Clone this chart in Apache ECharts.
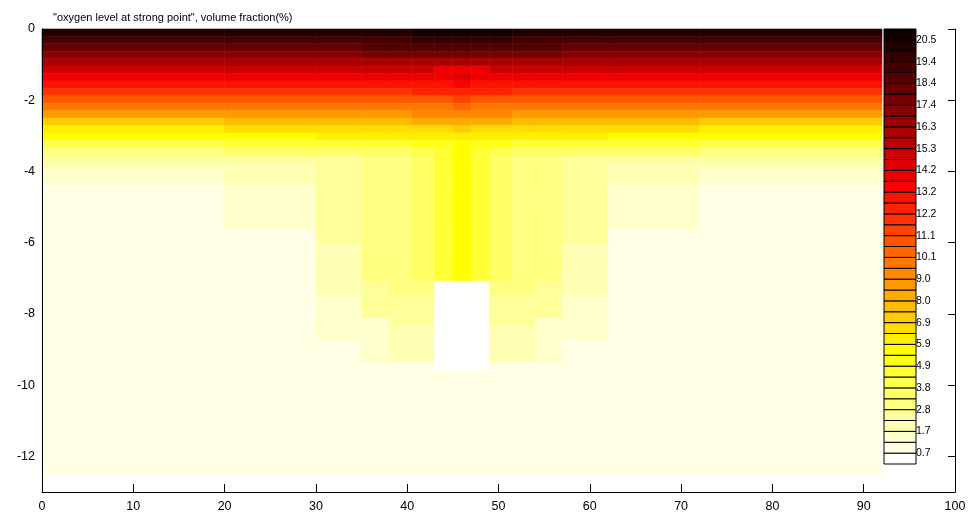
<!DOCTYPE html>
<html>
<head>
<meta charset="utf-8">
<script src="https://cdn.jsdelivr.net/npm/echarts@6/dist/echarts.min.js"></script>
<style>
  html, body { margin: 0; padding: 0; background: #ffffff; }
  #chart { width: 972px; height: 517px; }
</style>
</head>
<body>
<div id="chart"></div>
<script>
// Title and tick labels
const titleText = '"oxygen level at strong point", volume fraction(%)';
const xTicks = [0, 10, 20, 30, 40, 50, 60, 70, 80, 90, 100];
const yTicks = [0, -2, -4, -6, -8, -10, -12];
const colorbarLabels = ['0.7', '1.7', '2.8', '3.8', '4.9', '5.9', '6.9', '8.0', '9.0', '10.1',
                        '11.1', '12.2', '13.2', '14.2', '15.3', '16.3', '17.4', '18.4', '19.4', '20.5'];

// Colour scale limits (volume fraction, %) and number of discrete colour levels
const colorMin = 0.18;
const colorMax = 21.02;
const colorLevels = 40;

// Mesh: column edges along x, depth of the domain (rows are equally spaced)
const xEdges = [0, 20, 30, 35, 38, 40.5, 43, 45, 47, 49, 51.5, 54, 57, 62, 72, 92];
const depthBottom = -12.5;

// Oxygen volume fraction per cell, one row per depth layer (top to bottom), one value per column
const oxygen = [
  [20.3, 20.3, 20.3, 20.3, 20.3, 20.8, 20.8, 20.8, 20.8, 20.8, 20.3, 20.3, 20.3, 20.3, 20.3],
  [19.3, 19.3, 19.3, 19.3, 19.3, 19.8, 19.8, 19.8, 19.8, 19.8, 19.3, 19.3, 19.3, 19.3, 19.3],
  [18.3, 18.3, 18.3, 18.6, 18.6, 18.6, 18.6, 18.6, 18.6, 18.6, 18.6, 18.6, 18.3, 18.3, 18.3],
  [17.2, 17.2, 17.2, 17.6, 17.6, 17.6, 17.6, 17.6, 17.6, 17.6, 17.6, 17.6, 17.2, 17.2, 17.2],
  [16.1, 16.1, 16.1, 16.1, 16.1, 16.1, 16.1, 16.1, 16.1, 16.1, 16.1, 16.1, 16.1, 16.1, 16.1],
  [15.0, 15.0, 15.0, 15.0, 15.0, 15.0, 14.1, 14.1, 14.1, 15.0, 15.0, 15.0, 15.0, 15.0, 15.0],
  [13.9, 13.9, 13.9, 13.9, 13.9, 13.9, 13.9, 14.6, 13.9, 13.9, 13.9, 13.9, 13.9, 13.9, 13.9],
  [12.8, 12.8, 12.8, 12.8, 12.8, 12.8, 12.8, 13.6, 12.8, 12.8, 12.8, 12.8, 12.8, 12.8, 12.8],
  [11.7, 11.7, 11.7, 11.7, 11.7, 12.2, 12.2, 12.6, 12.2, 12.2, 11.7, 11.7, 11.7, 11.7, 11.7],
  [10.6, 10.6, 10.6, 10.6, 10.6, 10.6, 10.6, 11.4, 10.6, 10.6, 10.6, 10.6, 10.6, 10.6, 10.6],
  [9.6, 9.6, 9.6, 9.6, 9.6, 9.6, 9.6, 10.4, 9.6, 9.6, 9.6, 9.6, 9.6, 9.6, 9.6],
  [8.6, 8.6, 8.6, 8.6, 8.6, 9.1, 9.1, 9.4, 9.1, 9.1, 8.6, 8.6, 8.6, 8.6, 8.6],
  [7.4, 7.8, 7.8, 7.8, 7.8, 8.1, 8.1, 8.4, 8.1, 8.1, 7.8, 7.8, 7.8, 7.8, 7.4],
  [6.4, 6.8, 6.9, 6.9, 6.9, 6.9, 6.9, 7.3, 6.9, 6.9, 6.9, 6.9, 6.9, 6.8, 6.4],
  [5.6, 5.9, 6.0, 6.0, 6.0, 6.0, 6.0, 6.4, 6.0, 6.0, 6.0, 6.0, 6.0, 5.9, 5.6],
  [4.1, 4.6, 4.6, 4.8, 4.8, 5.1, 5.1, 5.65, 5.1, 5.1, 4.8, 4.8, 4.6, 4.6, 4.1],
  [3.0, 3.6, 3.6, 3.6, 3.6, 4.1, 4.6, 5.65, 4.6, 4.1, 3.6, 3.6, 3.6, 3.6, 3.0],
  [2.5, 2.5, 2.5, 3.05, 3.05, 3.8, 4.6, 5.65, 4.6, 3.8, 3.05, 3.05, 2.5, 2.5, 2.5],
  [2.0, 2.0, 2.5, 3.05, 3.05, 3.8, 4.6, 5.65, 4.6, 3.8, 3.05, 3.05, 2.5, 2.0, 2.0],
  [1.5, 2.0, 2.5, 3.05, 3.05, 3.8, 4.6, 5.65, 4.6, 3.8, 3.05, 3.05, 2.5, 2.0, 1.5],
  [1.5, 2.0, 2.5, 3.05, 3.05, 3.8, 4.6, 5.65, 4.6, 3.8, 3.05, 3.05, 2.5, 2.0, 1.5],
  [1.0, 1.5, 2.5, 3.05, 3.05, 3.8, 4.6, 5.65, 4.6, 3.8, 3.05, 3.05, 2.5, 1.5, 1.0],
  [1.0, 1.5, 2.5, 3.05, 3.05, 3.8, 4.6, 5.65, 4.6, 3.8, 3.05, 3.05, 2.5, 1.5, 1.0],
  [1.0, 1.5, 2.5, 3.05, 3.05, 3.8, 4.6, 5.65, 4.6, 3.8, 3.05, 3.05, 2.5, 1.5, 1.0],
  [1.0, 1.5, 2.5, 3.05, 3.05, 3.8, 4.6, 5.65, 4.6, 3.8, 3.05, 3.05, 2.5, 1.5, 1.0],
  [1.0, 1.5, 2.5, 3.05, 3.05, 3.8, 4.6, 5.65, 4.6, 3.8, 3.05, 3.05, 2.5, 1.5, 1.0],
  [1.0, 1.5, 2.5, 3.05, 3.05, 3.8, 4.6, 5.65, 4.6, 3.8, 3.05, 3.05, 2.5, 1.5, 1.0],
  [1.0, 1.0, 2.5, 3.05, 3.05, 3.8, 4.6, 5.65, 4.6, 3.8, 3.05, 3.05, 2.5, 1.0, 1.0],
  [1.0, 1.0, 2.5, 3.05, 3.05, 3.8, 4.6, 5.65, 4.6, 3.8, 3.05, 3.05, 2.5, 1.0, 1.0],
  [1.0, 1.0, 2.0, 3.05, 3.05, 3.8, 4.6, 5.65, 4.6, 3.8, 3.05, 3.05, 2.0, 1.0, 1.0],
  [1.0, 1.0, 2.0, 3.05, 3.05, 3.8, 4.6, 5.65, 4.6, 3.8, 3.05, 3.05, 2.0, 1.0, 1.0],
  [1.0, 1.0, 2.0, 3.05, 3.05, 3.8, 4.6, 5.65, 4.6, 3.8, 3.05, 3.05, 2.0, 1.0, 1.0],
  [1.0, 1.0, 2.0, 3.05, 3.05, 3.8, 4.6, 5.65, 4.6, 3.8, 3.05, 3.05, 2.0, 1.0, 1.0],
  [1.0, 1.0, 2.0, 3.05, 3.05, 3.8, 4.6, 5.65, 4.6, 3.8, 3.05, 3.05, 2.0, 1.0, 1.0],
  [1.0, 1.0, 2.0, 2.5, 3.05, 3.05, 0.45, 0.45, 0.45, 3.05, 3.05, 2.5, 2.0, 1.0, 1.0],
  [1.0, 1.0, 2.0, 2.5, 3.05, 3.05, 0.45, 0.45, 0.45, 3.05, 3.05, 2.5, 2.0, 1.0, 1.0],
  [1.0, 1.0, 1.5, 2.5, 2.5, 2.5, 0.45, 0.45, 0.45, 2.5, 2.5, 2.5, 1.5, 1.0, 1.0],
  [1.0, 1.0, 1.5, 2.5, 2.5, 2.5, 0.45, 0.45, 0.45, 2.5, 2.5, 2.5, 1.5, 1.0, 1.0],
  [1.0, 1.0, 1.5, 2.5, 2.5, 2.5, 0.45, 0.45, 0.45, 2.5, 2.5, 2.5, 1.5, 1.0, 1.0],
  [1.0, 1.0, 1.5, 1.5, 2.5, 2.5, 0.45, 0.45, 0.45, 2.5, 2.5, 1.5, 1.5, 1.0, 1.0],
  [1.0, 1.0, 1.5, 1.5, 2.0, 2.0, 0.45, 0.45, 0.45, 2.0, 2.0, 1.5, 1.5, 1.0, 1.0],
  [1.0, 1.0, 1.5, 1.5, 2.0, 2.0, 0.45, 0.45, 0.45, 2.0, 2.0, 1.5, 1.5, 1.0, 1.0],
  [1.0, 1.0, 1.0, 1.5, 2.0, 2.0, 0.45, 0.45, 0.45, 2.0, 2.0, 1.5, 1.0, 1.0, 1.0],
  [1.0, 1.0, 1.0, 1.5, 2.0, 2.0, 0.45, 0.45, 0.45, 2.0, 2.0, 1.5, 1.0, 1.0, 1.0],
  [1.0, 1.0, 1.0, 1.5, 2.0, 2.0, 0.45, 0.45, 0.45, 2.0, 2.0, 1.5, 1.0, 1.0, 1.0],
  [1.0, 1.0, 1.0, 1.0, 1.0, 1.0, 0.45, 0.45, 0.45, 1.0, 1.0, 1.0, 1.0, 1.0, 1.0],
  [1.0, 1.0, 1.0, 1.0, 1.0, 1.0, 1.0, 1.0, 1.0, 1.0, 1.0, 1.0, 1.0, 1.0, 1.0],
  [1.0, 1.0, 1.0, 1.0, 1.0, 1.0, 1.0, 1.0, 1.0, 1.0, 1.0, 1.0, 1.0, 1.0, 1.0],
  [1.0, 1.0, 1.0, 1.0, 1.0, 1.0, 1.0, 1.0, 1.0, 1.0, 1.0, 1.0, 1.0, 1.0, 1.0],
  [1.0, 1.0, 1.0, 1.0, 1.0, 1.0, 1.0, 1.0, 1.0, 1.0, 1.0, 1.0, 1.0, 1.0, 1.0],
  [1.0, 1.0, 1.0, 1.0, 1.0, 1.0, 1.0, 1.0, 1.0, 1.0, 1.0, 1.0, 1.0, 1.0, 1.0],
  [1.0, 1.0, 1.0, 1.0, 1.0, 1.0, 1.0, 1.0, 1.0, 1.0, 1.0, 1.0, 1.0, 1.0, 1.0],
  [1.0, 1.0, 1.0, 1.0, 1.0, 1.0, 1.0, 1.0, 1.0, 1.0, 1.0, 1.0, 1.0, 1.0, 1.0],
  [1.0, 1.0, 1.0, 1.0, 1.0, 1.0, 1.0, 1.0, 1.0, 1.0, 1.0, 1.0, 1.0, 1.0, 1.0],
  [1.0, 1.0, 1.0, 1.0, 1.0, 1.0, 1.0, 1.0, 1.0, 1.0, 1.0, 1.0, 1.0, 1.0, 1.0],
  [1.0, 1.0, 1.0, 1.0, 1.0, 1.0, 1.0, 1.0, 1.0, 1.0, 1.0, 1.0, 1.0, 1.0, 1.0],
  [1.0, 1.0, 1.0, 1.0, 1.0, 1.0, 1.0, 1.0, 1.0, 1.0, 1.0, 1.0, 1.0, 1.0, 1.0],
  [1.0, 1.0, 1.0, 1.0, 1.0, 1.0, 1.0, 1.0, 1.0, 1.0, 1.0, 1.0, 1.0, 1.0, 1.0],
  [1.0, 1.0, 1.0, 1.0, 1.0, 1.0, 1.0, 1.0, 1.0, 1.0, 1.0, 1.0, 1.0, 1.0, 1.0],
  [1.0, 1.0, 1.0, 1.0, 1.0, 1.0, 1.0, 1.0, 1.0, 1.0, 1.0, 1.0, 1.0, 1.0, 1.0]
];

// ---- colour map: reversed "hot" with discrete levels (low = white, high = black-red) ----
const levelWidth = (colorMax - colorMin) / colorLevels;

function levelOf(v) {
  let k = Math.floor((v - colorMin) / levelWidth);
  return Math.max(0, Math.min(colorLevels - 1, k));
}

function levelColor(k) {
  // k = 0 is the lowest level; hot() row counted from its dark end
  const j = colorLevels - k;             // 1..40
  const n1 = Math.floor(colorLevels * 3 / 8);
  const n2 = n1;
  const n3 = colorLevels - n1 - n2;
  const r = Math.min(1, j / n1);
  const g = Math.max(0, Math.min(1, (j - n1) / n2));
  const b = Math.max(0, Math.min(1, (j - n1 - n2) / n3));
  return 'rgb(' + Math.round(r * 255) + ',' + Math.round(g * 255) + ',' + Math.round(b * 255) + ')';
}

// ---- cells for the field ----
const rowCount = oxygen.length;
const cells = [];
for (let r = 0; r < rowCount; r++) {
  const yTop = depthBottom * r / rowCount;
  const yBot = depthBottom * (r + 1) / rowCount;
  for (let c = 0; c < xEdges.length - 1; c++) {
    cells.push([xEdges[c], xEdges[c + 1], yTop, yBot, oxygen[r][c]]);
  }
}

// ---- colour bar levels ----
const barLevels = [];
for (let k = 0; k < colorLevels; k++) {
  barLevels.push([k, colorMin + (k + 0.5) * levelWidth]);
}
const barLabelPositions = colorbarLabels.map((_, i) => 2 * i + 1);

const fontFamily = '"Liberation Sans", Arial, Helvetica, sans-serif';
const ink = '#000000';

const chart = echarts.init(document.getElementById('chart'), null, { renderer: 'canvas' });

chart.setOption({
  animation: false,
  backgroundColor: '#ffffff',
  textStyle: { fontFamily: fontFamily },
  title: {
    text: titleText,
    left: 48,
    top: 7,
    textStyle: { fontSize: 11, fontWeight: 'normal', color: ink, fontFamily: fontFamily }
  },
  grid: [
    { left: 42, top: 29, right: 17, bottom: 25, containLabel: false },
    { left: 884, top: 29, width: 32, height: 435, containLabel: false }
  ],
  xAxis: [
    {
      type: 'value', gridIndex: 0, min: 0, max: 100, z: 5,
      axisLine: { show: true, onZero: false, lineStyle: { color: ink, width: 1 } },
      axisTick: { show: true, inside: true, length: 8, customValues: xTicks, lineStyle: { color: ink } },
      axisLabel: { customValues: xTicks, color: ink, fontSize: 12.5, margin: 8, fontFamily: fontFamily },
      splitLine: { show: false }
    },
    {
      type: 'value', gridIndex: 1, min: 0, max: 1, show: false
    }
  ],
  yAxis: [
    {
      type: 'value', gridIndex: 0, min: -13, max: 0, z: 5,
      axisLine: { show: true, onZero: false, lineStyle: { color: ink, width: 1 } },
      axisTick: { show: false },
      axisLabel: { customValues: yTicks, color: ink, fontSize: 12.5, margin: 7, fontFamily: fontFamily },
      splitLine: { show: false }
    },
    {
      type: 'value', gridIndex: 0, min: -13, max: 0, position: 'right', z: 5,
      axisLine: { show: true, onZero: false, lineStyle: { color: ink, width: 1 } },
      axisTick: { show: true, inside: true, length: 7, customValues: yTicks, lineStyle: { color: ink } },
      axisLabel: { show: false },
      splitLine: { show: false }
    },
    {
      type: 'value', gridIndex: 1, min: 0, max: colorLevels, position: 'right',
      axisLine: { show: false },
      axisTick: { show: false },
      axisLabel: {
        customValues: barLabelPositions,
        formatter: function (v) { return colorbarLabels[Math.round((v - 1) / 2)]; },
        color: ink, fontSize: 10.5, margin: 0, fontFamily: fontFamily
      },
      splitLine: { show: false }
    }
  ],
  series: [
    {
      type: 'custom',
      name: 'oxygen',
      xAxisIndex: 0,
      yAxisIndex: 0,
      data: cells,
      encode: { x: [0, 1], y: [2, 3] },
      renderItem: function (params, api) {
        const p0 = api.coord([api.value(0), api.value(2)]);
        const p1 = api.coord([api.value(1), api.value(3)]);
        const color = levelColor(levelOf(api.value(4)));
        return {
          type: 'rect',
          shape: { x: p0[0], y: p0[1], width: p1[0] - p0[0], height: p1[1] - p0[1] },
          style: { fill: color, stroke: color, lineWidth: 0.6 }
        };
      }
    },
    {
      type: 'custom',
      name: 'colorbar',
      xAxisIndex: 1,
      yAxisIndex: 2,
      data: barLevels,
      encode: { y: 0 },
      renderItem: function (params, api) {
        const k = api.value(0);
        const p0 = api.coord([0, k + 1]);
        const p1 = api.coord([1, k]);
        return {
          type: 'rect',
          shape: { x: p0[0], y: p0[1], width: p1[0] - p0[0], height: p1[1] - p0[1] },
          style: { fill: levelColor(levelOf(api.value(1))), stroke: '#000000', lineWidth: 1 }
        };
      }
    }
  ]
});
</script>
</body>
</html>
